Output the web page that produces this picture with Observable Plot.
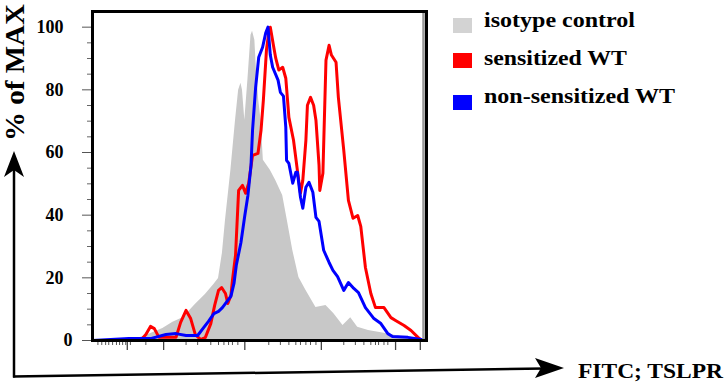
<!DOCTYPE html>
<html><head><meta charset="utf-8">
<script src="https://cdn.jsdelivr.net/npm/d3@7"></script>
<script src="https://cdn.jsdelivr.net/npm/@observablehq/plot@0.6"></script>
<style>
body{margin:0;background:#fff}
#chart{position:relative;width:726px;height:383px}
#chart svg{position:absolute;left:0;top:0}
#chart svg text{font-family:"Liberation Serif","DejaVu Serif",serif !important;font-weight:bold}
</style>
</head><body><div id="chart"></div>
<script>
// x = log10 fluorescence (FITC; TSLPR), y = % of MAX
const isotype = [[0.08,0],[0.57,0],[0.74,1.3],[0.99,3.8],[1.12,5.8],[1.25,7.3],[1.41,11.5],[1.54,14.7],[1.65,17.9],[1.71,19.8],[1.76,27.8],[1.80,38.3],[1.87,54.3],[1.93,70.3],[1.97,79.9],[2.00,82.1],[2.02,79.9],[2.05,70.3],[2.09,83.1],[2.13,97.4],[2.15,98.7],[2.18,95.8],[2.20,86.3],[2.23,76.7],[2.26,70.3],[2.29,57.5],[2.38,54.3],[2.45,51.1],[2.54,46.3],[2.60,38.3],[2.67,28.8],[2.75,20.1],[2.84,16.0],[2.97,10.5],[3.10,11.2],[3.20,8.6],[3.32,4.8],[3.42,7.3],[3.51,4.2],[3.65,3.2],[3.87,2.2],[4.07,1.3],[4.30,0.6],[4.40,0]];
const sensitized = [[0.08,0],[0.70,0],[0.77,1.9],[0.83,4.5],[0.88,3.8],[0.94,1.0],[1.16,1.0],[1.22,5.8],[1.29,9.6],[1.35,7.0],[1.41,1.9],[1.48,0.3],[1.54,1.0],[1.61,5.4],[1.66,11.2],[1.71,16.0],[1.75,16.9],[1.80,15.0],[1.83,11.8],[1.87,14.4],[1.89,19.2],[1.93,27.2],[1.97,47.9],[2.02,49.5],[2.06,47.0],[2.10,50.2],[2.15,59.1],[2.22,59.7],[2.26,67.1],[2.29,76.7],[2.33,92.7],[2.36,98.4],[2.38,100],[2.42,94.2],[2.45,90.1],[2.49,86.3],[2.54,87.2],[2.58,83.7],[2.62,71.2],[2.68,63.9],[2.73,54.3],[2.77,47.0],[2.80,51.1],[2.84,63.9],[2.86,75.1],[2.90,77.6],[2.94,75.1],[2.97,70.3],[3.01,55.9],[3.02,47.9],[3.06,53.4],[3.10,89.5],[3.14,94.2],[3.17,91.1],[3.23,88.8],[3.26,77.6],[3.33,60.7],[3.39,44.7],[3.45,39.0],[3.51,39.9],[3.55,36.4],[3.61,23.3],[3.68,15.0],[3.74,10.5],[3.85,10.5],[3.94,7.3],[4.00,6.4],[4.11,4.8],[4.20,3.2],[4.29,1.0],[4.34,0],[4.40,0]];
const nonSensitized = [[0.08,0],[0.55,0.6],[0.83,0.6],[1.03,1.9],[1.16,2.2],[1.29,1.6],[1.44,1.6],[1.52,4.2],[1.58,6.1],[1.65,8.6],[1.71,9.3],[1.76,10.5],[1.83,12.8],[1.87,14.1],[1.91,18.2],[1.94,24.0],[2.00,31.3],[2.05,39.9],[2.09,46.3],[2.13,55.9],[2.15,67.1],[2.19,80.8],[2.23,90.4],[2.28,93.6],[2.32,98.1],[2.35,100],[2.38,91.1],[2.41,87.2],[2.48,83.1],[2.51,79.2],[2.55,78.0],[2.58,68.1],[2.59,57.5],[2.62,56.5],[2.67,50.2],[2.71,53.7],[2.73,53.7],[2.77,45.7],[2.80,42.2],[2.84,48.9],[2.88,50.5],[2.93,47.3],[2.97,39.3],[3.01,38.0],[3.07,28.8],[3.14,24.9],[3.19,22.4],[3.25,20.4],[3.33,16.0],[3.39,18.5],[3.46,16.6],[3.52,15.3],[3.61,10.5],[3.72,7.0],[3.81,5.4],[3.90,2.2],[3.96,1.3],[4.16,1.0],[4.33,0.3],[4.40,0]];

const yMajorTicks = [20, 40, 60, 80, 100];
const yZeroTick = [0];
const yMinorTicks = [5,10,15,25,30,35,45,50,55,65,70,75,85,90,95];
const xMajorTicks = [0.53, 1.0, 2.05, 3.04, 4.0, 4.32];
const xMinorTicks = [0.15,0.2,0.25,0.29,0.34,0.39,0.43,0.47,0.51,0.57,0.77,1.29,1.44,1.61,1.71,1.78,1.84,1.89,1.96,2.36,2.51,2.62,2.71,2.77,2.84,2.90,2.97,3.33,3.48,3.59,3.68,3.74,3.78,3.85,3.90];

const seriesNames = ["isotype control", "sensitized WT", "non-sensitized WT"];
const seriesColors = ["#d3d3d3", "#ff0000", "#0000ff"];
const xLabel = "FITC; TSLPR";
const yLabel = "% of MAX";
const xDomain = [0.08, 4.40];
const yDomain = [0, 105];

const rows = (pairs) => pairs.map(([x, y]) => ({x, y}));
const serif = "Liberation Serif, DejaVu Serif, serif";

const plot = Plot.plot({
  width: 726, height: 383,
  marginLeft: 92, marginRight: 300, marginTop: 11, marginBottom: 43,
  x: {domain: xDomain, label: null},
  y: {domain: yDomain, label: null},
  style: {fontFamily: serif, fontSize: "18px", fontWeight: "bold", background: "transparent", overflow: "visible"},
  marks: [
    Plot.areaY(rows(isotype), {x: "x", y: "y", fill: "#c8c8c8"}),
    Plot.line(rows(sensitized), {x: "x", y: "y", stroke: seriesColors[1], strokeWidth: 3, strokeLinejoin: "round"}),
    Plot.line(rows(nonSensitized), {x: "x", y: "y", stroke: seriesColors[2], strokeWidth: 3, strokeLinejoin: "round"}),
    Plot.axisY({ticks: yMajorTicks, tickSize: 10, tickPadding: 19, stroke: "#555", fill: "black", fontSize: 18, fontWeight: "bold", label: null}),
    Plot.axisY({ticks: yZeroTick, tickSize: 10, tickPadding: 10, stroke: "#555", fill: "black", fontSize: 18, fontWeight: "bold", label: null}),
    Plot.axisY({ticks: yMinorTicks, tickSize: 5, tickFormat: () => "", stroke: "#666", label: null}),
    Plot.axisX({ticks: xMajorTicks, tickSize: 10, tickFormat: () => "", stroke: "#444", strokeWidth: 1.3, label: null}),
    Plot.axisX({ticks: xMinorTicks, tickSize: 5, tickFormat: () => "", stroke: "#555", label: null}),
    Plot.ruleX([xDomain[1]], {stroke: "#999", strokeWidth: 2.5, dx: -3}),
    Plot.frame({stroke: "black", strokeWidth: 3})
  ]
});

const chart = document.getElementById("chart");
chart.appendChild(plot);

// decorations: axis arrows, axis titles, legend
const ns = "http://www.w3.org/2000/svg";
const ov = document.createElementNS(ns, "svg");
ov.setAttribute("width", 726); ov.setAttribute("height", 383);
function el(tag, attrs, text) {
  const e = document.createElementNS(ns, tag);
  for (const k in attrs) e.setAttribute(k, attrs[k]);
  if (text) e.textContent = text;
  ov.appendChild(e);
  return e;
}
el("line", {x1: 14, y1: 377.5, x2: 14, y2: 168, stroke: "black", "stroke-width": 2.5});
el("path", {d: "M14,151 L24,177 L14,170 L4,177 Z", fill: "black"});
el("line", {x1: 13, y1: 376.5, x2: 545, y2: 368.5, stroke: "black", "stroke-width": 2.5});
el("path", {d: "M564,368 L535,358 L541,368 L535,378 Z", fill: "black"});
const tstyle = {"font-weight": "bold", fill: "black", lengthAdjust: "spacingAndGlyphs"};
el("text", {...tstyle, x: 578, y: 378, "font-size": 20, textLength: 145}, xLabel);
el("text", {...tstyle, transform: "translate(24,141) rotate(-90)", "font-size": 28, textLength: 137}, yLabel);
const legendY = [18, 53, 95];
const legendBase = [27, 65, 103];
const legendLen = [151, 143, 191];
seriesNames.forEach((n, i) => {
  el("rect", {x: 453, y: legendY[i], width: 19, height: 15, fill: seriesColors[i]});
  el("text", {...tstyle, x: 484, y: legendBase[i], "font-size": 21, textLength: legendLen[i]}, n);
});
chart.appendChild(ov);
</script>
</body></html>
